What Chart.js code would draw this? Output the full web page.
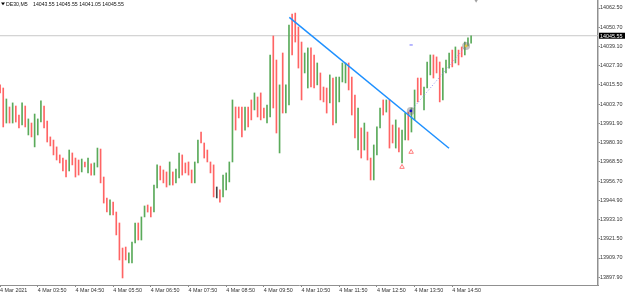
<!DOCTYPE html>
<html>
<head>
<meta charset="utf-8">
<script src="https://cdn.jsdelivr.net/npm/chart.js@4.4.1/dist/chart.umd.min.js"></script>
<style>
  body { margin: 0; background: #fff; }
  #c { display: block; }
</style>
</head>
<body>
<canvas id="c" width="625" height="295"></canvas>
<script>
// DE30 M5, 4 Mar 2021, bar 0 = 02:50, one bar every 5 minutes
const symbolName = 'DE30,M5';
const lastBar = [14043.55, 14045.55, 14041.05, 14045.55]; // O H L C
const lastPrice = 14045.55;

const hourBars = [0, 12, 24, 36, 48, 60, 72, 84, 96, 108, 120, 132, 144];
const hourLabels = ['4 Mar 2021', '4 Mar 03:50', '4 Mar 04:50', '4 Mar 05:50', '4 Mar 06:50',
  '4 Mar 07:50', '4 Mar 08:50', '4 Mar 09:50', '4 Mar 10:50', '4 Mar 11:50',
  '4 Mar 12:50', '4 Mar 13:50', '4 Mar 14:50'];

const yTicks = [14062.50, 14050.70, 14039.10, 14027.30, 14015.50, 14003.70, 13991.90,
  13980.30, 13968.50, 13956.70, 13944.90, 13933.10, 13921.50, 13909.70, 13897.90];

const highs = [
  14015.5, 14013.6, 14006.9, 14002.0, 14004.5, 14002.6, 13997.1, 14004.5, 14002.6, 13994.7,
  13992.2, 13997.7, 13994.7, 14005.7, 14002.6, 13993.4, 13983.7, 13981.8, 13977.6, 13972.7,
  13970.8, 13969.6, 13975.7, 13973.9, 13970.8, 13969.6, 13970.2, 13968.4, 13970.8, 13967.2,
  13967.8, 13976.9, 13976.3, 13959.2, 13946.4, 13945.2, 13943.9, 13937.8, 13931.1, 13915.8,
  13916.4, 13912.8, 13919.5, 13931.1, 13931.1, 13934.8, 13941.5, 13942.1, 13940.9, 13954.3,
  13966.6, 13965.9, 13963.5, 13962.3, 13968.4, 13962.3, 13964.1, 13973.9, 13972.7, 13967.8,
  13968.4, 13963.5, 13968.4, 13981.8, 13986.7, 13980.0, 13975.7, 13968.4, 13966.6, 13953.1,
  13951.3, 13960.4, 13961.7, 13968.4, 14006.3, 14002.0, 14002.0, 14002.0, 14002.0, 14002.0,
  14006.3, 14010.6, 14008.1, 14010.6, 14001.4, 14003.2, 14033.8, 14045.4, 14030.7, 14015.5,
  14035.0, 14015.5, 14052.1, 14058.8, 14059.4, 14050.9, 14041.7, 14035.0, 14038.1, 14038.1,
  14033.8, 14028.9, 14022.8, 14014.2, 14013.6, 14021.6, 14019.7, 14020.3, 14020.3, 14028.9,
  14028.9, 14028.9, 14020.3, 14009.3, 14001.4, 13989.2, 13992.2, 13986.7, 13970.8, 13978.8,
  13989.8, 14001.4, 14006.3, 14006.3, 14006.3, 13991.0, 13994.1, 13989.2, 13987.9, 13998.3,
  13998.9, 14001.4, 14012.4, 14019.7, 14019.7, 14014.2, 14029.5, 14033.8, 14033.8, 14032.6,
  14029.5, 14025.8, 14030.7, 14035.0, 14036.8, 14038.7, 14036.8, 14038.7, 14041.7, 14044.2,
  14045.55
];
const lows = [
  14010.6, 13989.8, 13992.2, 13992.2, 13992.2, 13992.8, 13989.2, 13991.0, 13989.8, 13984.9,
  13983.7, 13977.6, 13984.9, 13992.8, 13989.2, 13980.6, 13978.2, 13972.7, 13969.6, 13967.8,
  13962.9, 13959.2, 13962.9, 13966.6, 13959.2, 13960.4, 13962.3, 13965.3, 13961.7, 13960.4,
  13960.4, 13965.3, 13955.6, 13943.3, 13937.8, 13936.0, 13936.0, 13923.8, 13908.5, 13897.5,
  13908.5, 13906.7, 13906.7, 13918.9, 13920.7, 13920.7, 13934.8, 13937.8, 13934.8, 13937.8,
  13952.5, 13957.4, 13955.6, 13953.1, 13954.3, 13954.3, 13955.6, 13958.6, 13960.4, 13961.7,
  13960.4, 13955.6, 13955.6, 13967.8, 13980.0, 13970.8, 13968.4, 13961.7, 13947.0, 13946.4,
  13943.9, 13947.0, 13951.3, 13956.2, 13968.4, 13987.9, 13995.3, 13983.7, 13987.9, 13989.8,
  13994.1, 14000.2, 13995.9, 13994.1, 13995.3, 13992.2, 13995.9, 14001.4, 13986.1, 13973.9,
  13998.3, 13998.3, 14003.2, 14033.8, 14041.7, 14025.8, 14006.3, 14022.8, 14013.6, 14014.2,
  14013.6, 14015.5, 14006.3, 14005.1, 13998.3, 14004.5, 13991.0, 13992.2, 14005.1, 14017.3,
  14016.7, 14012.4, 13997.1, 13983.1, 13975.7, 13970.8, 13975.7, 13969.6, 13957.4, 13957.4,
  13972.7, 13989.2, 13997.1, 13998.9, 13976.9, 13980.0, 13976.9, 13974.5, 13967.8, 13981.8,
  13981.8, 13986.7, 13994.1, 14005.1, 14009.3, 14000.2, 14013.6, 14021.6, 14019.7, 14022.8,
  14005.1, 14006.3, 14022.8, 14025.8, 14026.5, 14028.9, 14027.7, 14032.6, 14033.8, 14039.3,
  14041.05
];
// u = up bar, d = down bar, n = doji
const dirs =
  'ddududdudu' + 'duuudddddd' + 'ddudddudud' + 'uudddudddd' + 'duuuduuddu' +
  'uddduduudd' + 'dduudddddn' + 'duuuudddud' + 'duddduuddu' + 'duudddduud' +
  'duddduduuu' + 'udddududdu' + 'uududduduu' + 'duudduuudd' + 'duuududduuu';

// objects on the chart (bar index, price)
const trendLine = [{ x: 92.1, y: 14056.8 }, { x: 142.96, y: 13976.8 }];
const dealLine = [{ x: 130.8, y: 13999.6 }, { x: 148.4, y: 14039.3 }];
const arrowMarks = [{ x: 128.0, y: 13965.3 }, { x: 130.9, y: 13974.5 }];
const orderDash = [{ x: 130.9, y: 14039.9 }];
const shiftMark = [{ x: 151.6, y: 14067.2 }];

const RED = 'rgb(255,100,100)';
const GREEN = 'rgb(90,170,90)';

const barData = highs.map((h, i) => ({ x: i, y: [lows[i], h] }));
const barColors = dirs.split('').map(d => d === 'u' ? GREEN : (d === 'd' ? RED : '#444'));

const xMin = -0.032, xMax = 190.41;

const overlay = {
  id: 'overlay',
  afterDraw(chart) {
    const ctx = chart.ctx;
    const ys = chart.scales.y;
    ctx.save();
    ctx.fillStyle = '#000';
    ctx.beginPath();
    ctx.moveTo(1, 2.5); ctx.lineTo(5, 2.5); ctx.lineTo(3, 5.2); ctx.closePath();
    ctx.fill();
    ctx.font = '5.2px "Liberation Sans", Arial';
    ctx.textBaseline = 'middle';
    ctx.fillStyle = '#111';
    ctx.fillText(symbolName, 6, 4.2);
    ctx.fillText(lastBar.map(v => v.toFixed(2)).join(' '), 33, 4.2);
    const py = ys.getPixelForValue(lastPrice);
    ctx.fillStyle = '#000';
    ctx.fillRect(599, py - 3, 26, 6);
    ctx.fillStyle = '#fff';
    ctx.font = '5.4px "Liberation Sans", Arial';
    ctx.fillText(lastPrice.toFixed(2), 600, py + 0.3);
    ctx.restore();
  }
};

Chart.defaults.font.family = '"Liberation Sans", Arial, sans-serif';

new Chart(document.getElementById('c'), {
  type: 'bar',
  data: {
    datasets: [
      {
        type: 'bar', data: barData, backgroundColor: barColors,
        barThickness: 1, order: 5
      },
      {
        type: 'line', data: [{ x: xMin, y: lastPrice }, { x: xMax, y: lastPrice }],
        borderColor: '#c8c8c8', borderWidth: 1, pointRadius: 0, order: 6
      },
      {
        type: 'line', data: trendLine, borderColor: '#1e90ff', borderWidth: 1.5,
        pointRadius: 0, order: 2
      },
      {
        type: 'line', data: dealLine, borderColor: '#8c8cf0', borderWidth: 1,
        borderDash: [1, 2], pointRadius: 0, order: 2
      },
      {
        type: 'line', data: dealLine, showLine: false, pointRadius: 4,
        pointBackgroundColor: 'rgba(120,120,120,0.45)', pointBorderWidth: 0, order: 1
      },
      {
        type: 'line', data: dealLine, showLine: false, pointRadius: 1.4,
        pointBackgroundColor: ['#1414c8', '#e6c040'], pointBorderWidth: 0, order: 0
      },
      {
        type: 'line', data: arrowMarks, showLine: false, pointStyle: 'triangle',
        pointRadius: 2.6, pointBorderColor: '#ff7a7a', pointBackgroundColor: 'rgba(255,255,255,0)',
        pointBorderWidth: 1, order: 0
      },
      {
        type: 'line', data: orderDash, showLine: false, pointStyle: 'line',
        pointRadius: 1.6, pointBorderColor: '#7070ff', pointBorderWidth: 1, order: 0
      },
      {
        type: 'line', data: shiftMark, showLine: false, pointStyle: 'triangle', pointRotation: 180,
        pointRadius: 2.5, pointBackgroundColor: '#a0a0a0', pointBorderWidth: 0, clip: false, order: 0
      }
    ]
  },
  options: {
    responsive: false,
    animation: false,
    devicePixelRatio: 1,
    layout: { padding: 0, autoPadding: false },
    plugins: { legend: { display: false }, tooltip: { enabled: false } },
    scales: {
      x: {
        type: 'linear', min: xMin, max: xMax, position: 'bottom', offset: false,
        afterBuildTicks: s => { s.ticks = hourBars.map(v => ({ value: v })); },
        afterFit: s => { s.height = 10; s.paddingLeft = 0; s.paddingRight = 0; },
        grid: { display: true, offset: false, drawOnChartArea: false, drawTicks: true, tickLength: 2, color: '#888' },
        border: { display: true, color: '#909090', width: 1 },
        ticks: {
          autoSkip: false, maxRotation: 0, align: 'start', padding: 0,
          color: '#333', font: { size: 5.4 },
          callback: v => hourLabels[hourBars.indexOf(v)]
        }
      },
      y: {
        type: 'linear', min: 13893.2, max: 14067.39, position: 'right',
        afterBuildTicks: s => { s.ticks = yTicks.map(v => ({ value: v })); },
        afterFit: s => { s.width = 27; s.paddingTop = 0; s.paddingBottom = 0; },
        grid: { display: true, drawOnChartArea: false, drawTicks: true, tickLength: 2, color: '#888' },
        border: { display: true, color: '#909090', width: 1.5 },
        ticks: {
          padding: 0, color: '#333', font: { size: 5.4 },
          callback: v => v.toFixed(2)
        }
      }
    }
  },
  plugins: [overlay]
});
</script>
</body>
</html>
